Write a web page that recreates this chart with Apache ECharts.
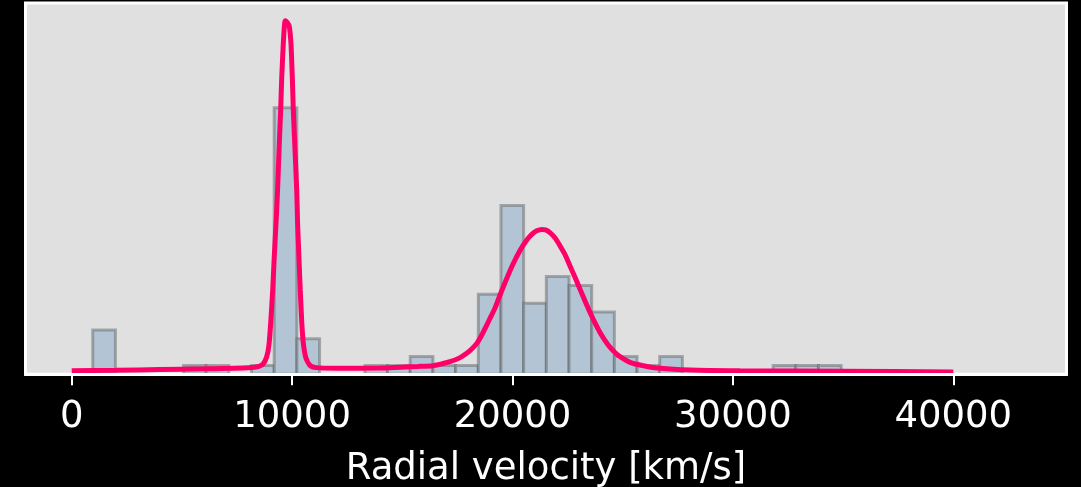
<!DOCTYPE html>
<html>
<head>
<meta charset="utf-8">
<script src="https://cdn.jsdelivr.net/npm/echarts@6/dist/echarts.min.js"></script>
<style>
  html, body { margin: 0; padding: 0; background: #000; }
  #chart { width: 1081px; height: 487px; }
</style>
</head>
<body>
<div id="chart"></div>
<script>
// histogram bin edges (km/s) and counts per bin
var binEdges = [955, 1984, 3013, 4042, 5071, 6100, 7129, 8158, 9187, 10216, 11245,
  12274, 13303, 14332, 15361, 16390, 17419, 18448, 19477, 20506, 21535, 22564,
  23593, 24622, 25651, 26680, 27709, 28738, 29767, 30796, 31825, 32854, 33883, 34912];
var binCounts = [5, 0, 0, 0, 1, 1, 0, 1, 30, 4, 0, 0, 1, 1, 2, 1, 1, 9, 19, 8, 11,
  10, 7, 2, 1, 2, 0, 0, 0, 0, 1, 1, 1];

// model curve: [velocity, height]
var curveV = [0, 2000, 4000, 6000, 8000, 8500, 8700, 8850, 8950, 9030, 9120, 9190,
  9270, 9340, 9420, 9480, 9530, 9600, 9660, 9700, 9780, 9870, 9950, 10010, 10055,
  10120, 10210, 10250, 10310, 10370, 10440, 10510, 10620, 10810, 11100, 12000,
  14000, 14900, 15700, 16400, 17160, 17600, 17920, 18150, 18380, 18600, 18830,
  19000, 19200, 19430, 19740, 20040, 20340, 20640, 20900, 21100, 21330, 21500,
  21700, 21950, 22160, 22400, 22610, 22850, 23060, 23300, 23520, 23750, 23970,
  24200, 24420, 24650, 24880, 25330, 25940, 26700, 28050, 30320, 34860, 40000];
var curveY = [0.4, 0.45, 0.53, 0.62, 0.75, 0.9, 1.2, 2.0, 3.3, 5.8, 9.5, 13.2,
  17.0, 20.7, 26.0, 29.7, 33.4, 37.2, 39.5, 39.8, 39.6, 39.2, 37.2, 33.4, 29.7,
  26.0, 20.7, 17.0, 13.2, 9.5, 5.8, 3.5, 1.9, 1.0, 0.75, 0.68,
  0.7, 0.8, 0.88, 0.97, 1.42, 1.85, 2.36, 2.85, 3.48, 4.4, 5.54,
  6.4, 7.42, 8.9, 10.8, 12.5, 13.95, 15.1, 15.8, 16.15, 16.3, 16.25,
  15.95, 15.3, 14.45, 13.4, 12.2, 10.85, 9.6, 8.2, 6.95, 5.75, 4.7,
  3.8, 3.05, 2.45, 1.98, 1.35, 0.97, 0.67, 0.48, 0.4, 0.34, 0.26];

var tickValues = [0, 10000, 20000, 30000, 40000];

var barData = binCounts.map(function (c, i) {
  return [binEdges[i], binEdges[i + 1], c];
}).filter(function (d) { return d[2] > 0; });

var curveData = curveV.map(function (v, i) { return [v, curveY[i]]; });

var chart = echarts.init(document.getElementById("chart"));
chart.setOption({
  backgroundColor: "#000",
  animation: false,
  textStyle: { fontFamily: "DejaVu Sans" },
  grid: {
    left: 25.5,
    right: 14.5,
    top: 3,
    bottom: 112.7,
    outerBoundsMode: "none",
    containLabel: false,
    show: true,
    backgroundColor: "#e0e0e0",
    borderColor: "#fff",
    borderWidth: 3,
  },
  xAxis: {
    type: "value",
    min: -2096,
    max: 45136,
    z: 5,
    name: "Radial velocity [km/s]",
    nameLocation: "middle",
    nameGap: 77,
    nameTextStyle: {
      color: "#fff",
      fontSize: 37,
      lineHeight: 37,
      fontFamily: "DejaVu Sans",
    },
    axisLine: { show: true, lineStyle: { color: "#fff", width: 3 } },
    axisTick: {
      show: true,
      length: 11,
      lineStyle: { color: "#fff", width: 2 },
      customValues: tickValues,
    },
    axisLabel: {
      color: "#fff",
      fontSize: 37,
      lineHeight: 37,
      margin: 25,
      fontFamily: "DejaVu Sans",
      customValues: tickValues,
      formatter: function (v) {
        return String(v);
      },
    },
    splitLine: { show: false },
  },
  yAxis: {
    type: "value",
    min: 0,
    max: 41.8,
    show: false,
    splitLine: { show: false },
  },
  series: [
    {
      type: "custom",
      z: 2,
      data: barData,
      renderItem: function (params, api) {
        var p0 = api.coord([api.value(0), api.value(2)]);
        var p1 = api.coord([api.value(1), 0]);
        return {
          type: "rect",
          shape: { x: p0[0], y: p0[1], width: p1[0] - p0[0], height: p1[1] - p0[1] },
          style: {
            fill: "#b3c5d5",
            stroke: "rgba(90,90,90,0.45)",
            lineWidth: 3,
          },
        };
      },
    },
    {
      type: "line",
      z: 3,
      data: curveData,
      showSymbol: false,
      smooth: 0.2,
      lineStyle: { color: "#ff0068", width: 5 },
    },
  ],
});
</script>
</body>
</html>
